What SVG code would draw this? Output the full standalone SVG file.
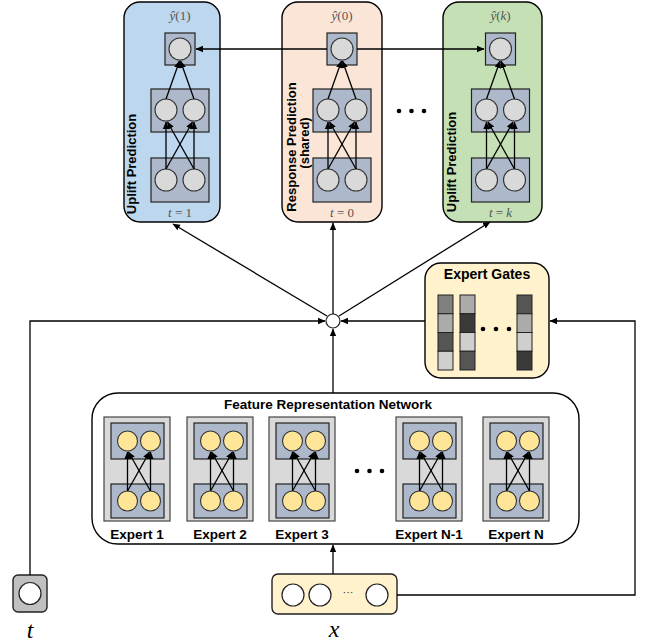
<svg xmlns="http://www.w3.org/2000/svg" xmlns:xlink="http://www.w3.org/1999/xlink" width="646" height="643" viewBox="0 0 646 643">
<defs>
<marker id="ah" markerWidth="8" markerHeight="8" refX="7" refY="4" orient="auto" markerUnits="userSpaceOnUse">
<path d="M0,0.8 L7.5,4 L0,7.2 Z" fill="#000"/>
</marker>
<style>
.panel{stroke:#000;stroke-width:1.4}
.nbox{fill:#adb9ca;stroke:#222;stroke-width:1.2}
.gc{fill:#d9d9d9;stroke:#333;stroke-width:1.1}
.yc{fill:#ffe598;stroke:#333;stroke-width:1.1}
.wc{fill:#fff;stroke:#222;stroke-width:1.2}
.ln{stroke:#000;stroke-width:1.3;fill:none}
.arr{stroke:#000;stroke-width:1.3;fill:none;marker-end:url(#ah)}
.bold{font-family:"Liberation Sans",Arial,sans-serif;font-weight:bold;fill:#000}
.math{font-family:"Liberation Serif","Times New Roman",serif;fill:#555;font-size:13px}
.var{font-family:"Liberation Serif","Times New Roman",serif;font-style:italic;fill:#000;font-size:24px}
.cell{stroke:#222;stroke-width:1}
</style>
<g id="net">
<rect class="nbox" x="-15" y="33" width="30" height="32"/>
<circle class="gc" cx="0" cy="49" r="11"/>
<rect class="nbox" x="-29" y="89" width="58" height="43"/>
<circle class="gc" cx="-14" cy="110" r="11"/>
<circle class="gc" cx="14" cy="110" r="11"/>
<rect class="nbox" x="-29" y="158" width="58" height="44"/>
<circle class="gc" cx="-14" cy="180" r="11"/>
<circle class="gc" cx="14" cy="180" r="11"/>
<path class="arr" d="M-14,169 L-14,122"/>
<path class="arr" d="M14,169 L14,122"/>
<path class="arr" d="M-14,169 L12.5,122"/>
<path class="arr" d="M14,169 L-12.5,122"/>
<path class="arr" d="M-14,99 L-0.5,61"/>
<path class="arr" d="M14,99 L0.5,61"/>
</g>
<g id="expert">
<rect x="0" y="417" width="66" height="104" fill="#d9d9d9" stroke="#444" stroke-width="1.2"/>
<rect class="nbox" x="7" y="423" width="53" height="36"/>
<rect class="nbox" x="7" y="484" width="53" height="34"/>
<circle class="yc" cx="23.5" cy="441" r="10"/>
<circle class="yc" cx="46.5" cy="441" r="10"/>
<circle class="yc" cx="23.5" cy="501" r="10"/>
<circle class="yc" cx="46.5" cy="501" r="10"/>
<path class="arr" d="M23.5,491 L23.5,452"/>
<path class="arr" d="M46.5,491 L46.5,452"/>
<path class="arr" d="M23.5,491 L45.5,452"/>
<path class="arr" d="M46.5,491 L24.5,452"/>
</g>
</defs>
<rect width="646" height="643" fill="#fff"/>

<g id="panel-uplift-1">
<rect class="panel" x="124" y="2" width="96" height="220" rx="16" fill="#bdd7ee"/>
<use xlink:href="#net" transform="translate(180,0)"/>
<text class="math" x="180" y="20" text-anchor="middle"><tspan font-style="italic">ŷ</tspan>(1)</text>
<text class="math" x="180" y="217" text-anchor="middle"><tspan font-style="italic">t</tspan> = 1</text>
<text class="bold" font-size="13" transform="translate(135.5,164) rotate(-90)" text-anchor="middle">Uplift Prediction</text>
</g>

<g id="panel-response">
<rect class="panel" x="282" y="2" width="100" height="220" rx="16" fill="#fbe5d6"/>
<use xlink:href="#net" transform="translate(342,0)"/>
<text class="math" x="342" y="20" text-anchor="middle"><tspan font-style="italic">ŷ</tspan>(0)</text>
<text class="math" x="342" y="217" text-anchor="middle"><tspan font-style="italic">t</tspan> = 0</text>
<text class="bold" font-size="13" transform="translate(295.5,147) rotate(-90)" text-anchor="middle">Response Prediction</text>
<text class="bold" font-size="13" transform="translate(309,143) rotate(-90)" text-anchor="middle">(shared)</text>
</g>

<g id="panel-uplift-k">
<rect class="panel" x="443" y="2" width="99" height="220" rx="16" fill="#c5e0b4"/>
<use xlink:href="#net" transform="translate(500.5,0)"/>
<text class="math" x="500.5" y="20" text-anchor="middle"><tspan font-style="italic">ŷ</tspan>(<tspan font-style="italic">k</tspan>)</text>
<text class="math" x="500.5" y="217" text-anchor="middle"><tspan font-style="italic">t</tspan> = <tspan font-style="italic">k</tspan></text>
<text class="bold" font-size="13" transform="translate(455.5,162) rotate(-90)" text-anchor="middle">Uplift Prediction</text>
</g>

<g id="panel-dots">
<circle cx="399" cy="111" r="2.3" fill="#000"/>
<circle cx="411.5" cy="111" r="2.3" fill="#000"/>
<circle cx="424" cy="111" r="2.3" fill="#000"/>
</g>

<g id="combine">
<circle class="wc" cx="333" cy="321" r="7"/>
</g>

<g id="expert-gates">
<rect x="425" y="263" width="124" height="115" rx="16" fill="#fff2cc" stroke="#000" stroke-width="1.4"/>
<text class="bold" font-size="14" x="487" y="279" text-anchor="middle">Expert Gates</text>
<rect class="cell" x="438" y="295" width="15" height="18.75" fill="#808080"/>
<rect class="cell" x="438" y="313.75" width="15" height="18.75" fill="#ababab"/>
<rect class="cell" x="438" y="332.5" width="15" height="18.75" fill="#555"/>
<rect class="cell" x="438" y="351.25" width="15" height="18.75" fill="#cfcfcf"/>
<rect class="cell" x="460" y="295" width="15" height="18.75" fill="#ababab"/>
<rect class="cell" x="460" y="313.75" width="15" height="18.75" fill="#3a3a3a"/>
<rect class="cell" x="460" y="332.5" width="15" height="18.75" fill="#cfcfcf"/>
<rect class="cell" x="460" y="351.25" width="15" height="18.75" fill="#555"/>
<rect class="cell" x="517" y="295" width="15" height="18.75" fill="#555"/>
<rect class="cell" x="517" y="313.75" width="15" height="18.75" fill="#ababab"/>
<rect class="cell" x="517" y="332.5" width="15" height="18.75" fill="#cfcfcf"/>
<rect class="cell" x="517" y="351.25" width="15" height="18.75" fill="#3a3a3a"/>
<circle cx="483" cy="329" r="2.3" fill="#000"/>
<circle cx="496" cy="329" r="2.3" fill="#000"/>
<circle cx="509" cy="329" r="2.3" fill="#000"/>
</g>

<g id="feature-network">
<rect x="92" y="393" width="487" height="151" rx="26" fill="#fff" stroke="#000" stroke-width="1.4"/>
<text class="bold" font-size="13.5" x="328" y="409" text-anchor="middle">Feature Representation Network</text>
<g id="expert-1"><use xlink:href="#expert" transform="translate(104,0)"/><text class="bold" font-size="13.5" x="137" y="539" text-anchor="middle">Expert 1</text></g>
<g id="expert-2"><use xlink:href="#expert" transform="translate(187,0)"/><text class="bold" font-size="13.5" x="220" y="539" text-anchor="middle">Expert 2</text></g>
<g id="expert-3"><use xlink:href="#expert" transform="translate(269,0)"/><text class="bold" font-size="13.5" x="302" y="539" text-anchor="middle">Expert 3</text></g>
<g id="expert-n1"><use xlink:href="#expert" transform="translate(396,0)"/><text class="bold" font-size="13.5" x="429" y="539" text-anchor="middle">Expert N-1</text></g>
<g id="expert-n"><use xlink:href="#expert" transform="translate(483,0)"/><text class="bold" font-size="13.5" x="516" y="539" text-anchor="middle">Expert N</text></g>
<circle cx="357" cy="471" r="2.3" fill="#000"/>
<circle cx="369.5" cy="471" r="2.3" fill="#000"/>
<circle cx="382" cy="471" r="2.3" fill="#000"/>
</g>

<g id="input-t">
<rect x="13" y="575" width="34" height="37" rx="5" fill="#c0c0c0" stroke="#222" stroke-width="1.4"/>
<circle class="wc" cx="30" cy="593.5" r="11"/>
<text class="var" x="30" y="638" text-anchor="middle">t</text>
</g>

<g id="input-x">
<rect x="272" y="574" width="125" height="40" rx="6" fill="#fff2cc" stroke="#222" stroke-width="1.4"/>
<circle class="wc" cx="293" cy="595" r="11"/>
<circle class="wc" cx="320" cy="595" r="11"/>
<circle class="wc" cx="377" cy="595" r="11"/>
<text font-family="Liberation Sans,Arial,sans-serif" font-size="11" x="348" y="596" text-anchor="middle" fill="#333">···</text>
<text class="var" x="334" y="637" text-anchor="middle">x</text>
</g>

<g id="connectors">
<path class="arr" d="M327,49 L196,49"/>
<path class="arr" d="M357,49 L484,49"/>
<path class="arr" d="M327,316 L173,224"/>
<path class="arr" d="M333,314 L333,223"/>
<path class="arr" d="M339,316 L490,222"/>
<path class="arr" d="M30,575 L30,321 L325,321"/>
<path class="arr" d="M425,321 L341,321"/>
<path class="arr" d="M333,393 L333,329"/>
<path class="arr" d="M333,574 L333,545"/>
<path class="arr" d="M397,595 L635,595 L635,321 L550,321"/>
</g>
</svg>
